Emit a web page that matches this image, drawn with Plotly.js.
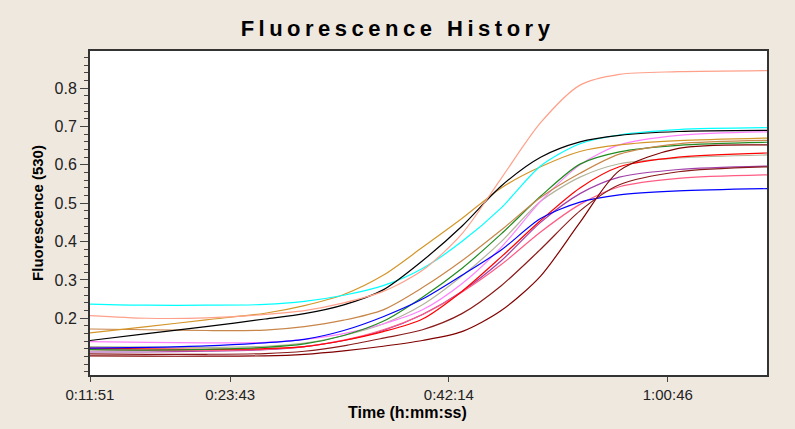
<!DOCTYPE html>
<html>
<head>
<meta charset="utf-8">
<script src="https://cdn.plot.ly/plotly-3.0.1.min.js"></script>
<style>
  html, body { margin: 0; padding: 0; background: #EFE8DF; }
  #chart { width: 795px; height: 429px; }
  .gtitle { letter-spacing: 4.5px; }
</style>
</head>
<body>
<div id="chart"></div>
<script>
// Sample times (seconds since start of run)
const timeSec = [711, 1000, 1300, 1600, 1800, 2000, 2200, 2400, 2600, 2800, 3000, 3200, 3400, 3700, 4150];

// Axis tick positions and their h:mm:ss labels
const xTickVals = [711, 1423, 2534, 3646];
const xTickText = ['0:11:51', '0:23:43', '0:42:14', '1:00:46'];
const yTickVals = [0.2, 0.3, 0.4, 0.5, 0.6, 0.7, 0.8];
const yTickText = ['0.2', '0.3', '0.4', '0.5', '0.6', '0.7', '0.8'];

// Fluorescence (530) per sample, one array per well
const wellSalmon  = [0.207, 0.200, 0.201, 0.210, 0.220, 0.240, 0.270, 0.325, 0.420, 0.565, 0.710, 0.808, 0.836, 0.843, 0.846];
const wellCyan    = [0.237, 0.234, 0.234, 0.236, 0.244, 0.260, 0.285, 0.330, 0.400, 0.488, 0.597, 0.655, 0.678, 0.692, 0.697];
const wellBlack   = [0.142, 0.160, 0.178, 0.198, 0.212, 0.235, 0.274, 0.350, 0.440, 0.545, 0.620, 0.660, 0.677, 0.687, 0.690];
const wellGold    = [0.162, 0.178, 0.196, 0.213, 0.233, 0.262, 0.312, 0.385, 0.460, 0.540, 0.595, 0.635, 0.652, 0.663, 0.670];
const wellTan     = [0.172, 0.170, 0.168, 0.169, 0.178, 0.195, 0.222, 0.280, 0.350, 0.430, 0.515, 0.578, 0.628, 0.655, 0.664];
const wellBlue    = [0.122, 0.124, 0.128, 0.136, 0.145, 0.168, 0.204, 0.250, 0.312, 0.378, 0.460, 0.503, 0.522, 0.532, 0.538];
const wellGreen   = [0.118, 0.117, 0.119, 0.124, 0.133, 0.155, 0.192, 0.255, 0.330, 0.420, 0.518, 0.602, 0.634, 0.651, 0.659];
const wellViolet  = [0.139, 0.137, 0.136, 0.137, 0.145, 0.160, 0.185, 0.222, 0.290, 0.385, 0.505, 0.600, 0.652, 0.677, 0.686];
const wellRed     = [0.122, 0.120, 0.119, 0.121, 0.126, 0.142, 0.165, 0.198, 0.270, 0.360, 0.455, 0.540, 0.595, 0.620, 0.631];
const wellKhaki   = [0.126, 0.125, 0.124, 0.127, 0.135, 0.155, 0.185, 0.235, 0.310, 0.400, 0.505, 0.568, 0.603, 0.618, 0.626];
const wellPurple  = [0.112, 0.112, 0.114, 0.118, 0.126, 0.142, 0.168, 0.210, 0.270, 0.350, 0.450, 0.525, 0.568, 0.588, 0.597];
const wellRose    = [0.118, 0.116, 0.116, 0.119, 0.126, 0.143, 0.170, 0.210, 0.268, 0.340, 0.425, 0.497, 0.543, 0.565, 0.574];
const wellMaroonA = [0.102, 0.101, 0.101, 0.102, 0.106, 0.115, 0.127, 0.142, 0.165, 0.220, 0.310, 0.450, 0.585, 0.643, 0.652];
const wellMaroonB = [0.107, 0.106, 0.106, 0.108, 0.114, 0.128, 0.148, 0.170, 0.212, 0.285, 0.380, 0.480, 0.548, 0.582, 0.595];

const wells = [
  { y: wellKhaki,   color: '#B4B49C' },
  { y: wellPurple,  color: '#A040A8' },
  { y: wellRose,    color: '#FF5C84' },
  { y: wellRed,     color: '#FF0000' },
  { y: wellViolet,  color: '#FF80FF' },
  { y: wellGreen,   color: '#228B22' },
  { y: wellBlue,    color: '#0000FF' },
  { y: wellMaroonB, color: '#8B1A1A' },
  { y: wellMaroonA, color: '#800000' },
  { y: wellTan,     color: '#C8864A' },
  { y: wellGold,    color: '#D4962A' },
  { y: wellCyan,    color: '#00FFFF' },
  { y: wellBlack,   color: '#000000' },
  { y: wellSalmon,  color: '#FFA08A' }
];

const traces = wells.map(w => ({
  type: 'scatter',
  mode: 'lines',
  x: timeSec,
  y: w.y,
  line: { color: w.color, width: 1.2, shape: 'spline', smoothing: 0.8 },
  hoverinfo: 'skip'
}));

const baseFont = { family: 'Liberation Sans, Arial, sans-serif', color: '#222' };

const layout = {
  width: 795,
  height: 429,
  paper_bgcolor: '#EFE8DF',
  plot_bgcolor: '#FFFFFF',
  margin: { l: 90, r: 28, t: 51, b: 54 },
  showlegend: false,
  title: {
    text: '<b>Fluorescence History</b>',
    font: { family: 'Liberation Sans, Arial, sans-serif', size: 22, color: '#000' },
    x: 0.5, xref: 'container', xanchor: 'center',
    y: 1 - 28 / 429, yref: 'container', yanchor: 'middle'
  },
  xaxis: {
    range: [711, 4150],
    tickmode: 'array',
    tickvals: xTickVals,
    ticktext: xTickText,
    ticks: 'outside', ticklen: 5, tickwidth: 1, tickcolor: '#444',
    tickfont: Object.assign({ size: 15 }, baseFont),
    showgrid: false, zeroline: false,
    showline: true, mirror: true, linecolor: '#333', linewidth: 2
  },
  yaxis: {
    range: [0.052, 0.897],
    tickmode: 'array',
    tickvals: yTickVals,
    ticktext: yTickText,
    ticks: 'outside', ticklen: 8, tickwidth: 1, tickcolor: '#444',
    minor: { tickmode: 'linear', tick0: 0, dtick: 0.02, ticks: 'outside', ticklen: 4, tickcolor: '#444', showgrid: false },
    tickfont: Object.assign({ size: 16 }, baseFont),
    showgrid: false, zeroline: false,
    showline: true, mirror: true, linecolor: '#333', linewidth: 2,
    title: { text: '<b>Fluorescence (530)</b>', font: Object.assign({ size: 15 }, baseFont, { color: '#000' }), standoff: 7 }
  },
  annotations: [{
    text: '<b>Time (h:mm:ss)</b>',
    xref: 'paper', yref: 'paper',
    x: (407 - 90) / 677, y: -(412 - 375) / 324,
    xanchor: 'center', yanchor: 'middle',
    showarrow: false,
    font: { family: 'Liberation Sans, Arial, sans-serif', size: 16, color: '#000' }
  }]
};

Plotly.newPlot('chart', traces, layout, { displayModeBar: false, staticPlot: true });
</script>
</body>
</html>
